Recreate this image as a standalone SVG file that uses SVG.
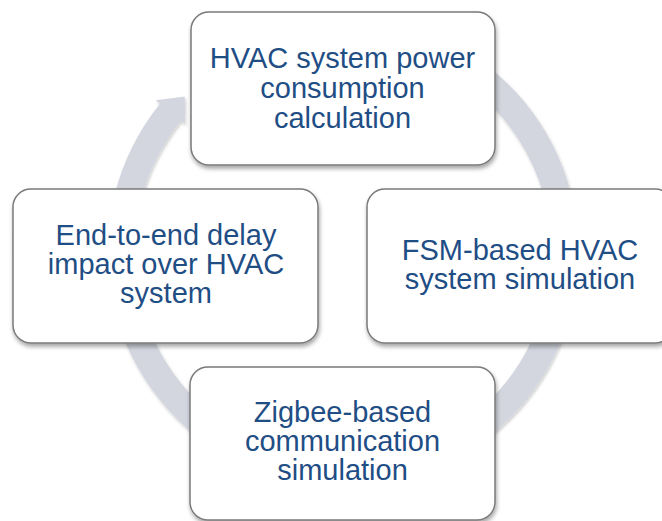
<svg xmlns="http://www.w3.org/2000/svg" width="662" height="521" viewBox="0 0 662 521">
<defs>
<filter id="sh" x="-10%" y="-10%" width="120%" height="125%">
<feDropShadow dx="1" dy="3" stdDeviation="2" flood-color="#000" flood-opacity="0.35"/>
</filter>
<filter id="rsh" x="-10%" y="-10%" width="120%" height="120%">
<feDropShadow dx="1" dy="2" stdDeviation="1.5" flood-color="#000" flood-opacity="0.2"/>
</filter>
</defs>
<style>
.box{fill:#ffffff;stroke:#7a7a7a;stroke-width:1.5;filter:url(#sh)}
.t{font-family:"Liberation Sans",Arial,sans-serif;font-size:29px;fill:#1f4e85;text-anchor:middle}
.ring{fill:#d3d6df;filter:url(#rsh)}
</style>
<rect width="662" height="521" fill="#ffffff"/>
<g id="connectors">
<path class="ring" d="M 383.9 20.1 A 235.5 235.5 0 1 1 160.0 103.8 L 155.7 100.3 L 184.7 96.4 L 185.2 124.2 L 181.0 120.8 A 208.5 208.5 0 1 0 379.2 46.7 Z"/>
</g>
<g id="node-power">
<rect class="box" x="191" y="12" width="304" height="153" rx="18"/>
<text class="t" x="342.5" y="68">HVAC system power</text>
<text class="t" x="342.5" y="98">consumption</text>
<text class="t" x="342.5" y="128">calculation</text>
</g>
<g id="node-fsm">
<rect class="box" x="367" y="189" width="306" height="154" rx="18"/>
<text class="t" x="520" y="260">FSM-based HVAC</text>
<text class="t" x="520" y="289">system simulation</text>
</g>
<g id="node-zigbee">
<rect class="box" x="190" y="367" width="305" height="153" rx="18"/>
<text class="t" x="342.5" y="422">Zigbee-based</text>
<text class="t" x="342.5" y="451">communication</text>
<text class="t" x="342.5" y="480">simulation</text>
</g>
<g id="node-delay">
<rect class="box" x="13" y="189" width="305" height="154" rx="18"/>
<text class="t" x="166" y="245">End-to-end delay</text>
<text class="t" x="166" y="274">impact over HVAC</text>
<text class="t" x="166" y="303">system</text>
</g>
</svg>
